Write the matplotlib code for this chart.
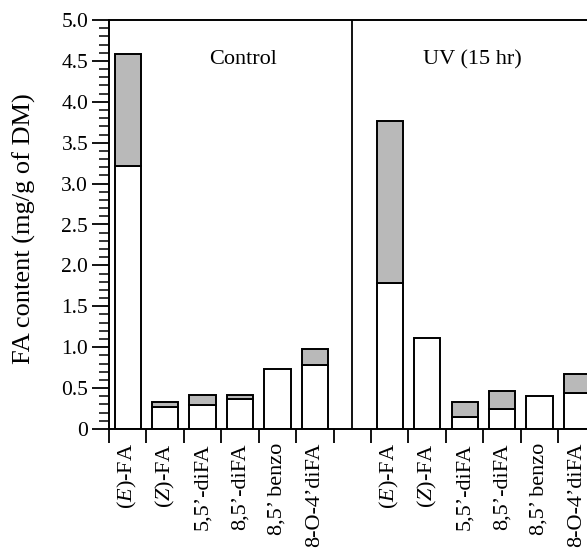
import matplotlib
matplotlib.use("Agg")
import matplotlib.pyplot as plt
from matplotlib.ticker import MultipleLocator, FixedLocator, NullFormatter
import numpy as np

plt.rcParams['font.family'] = ['Liberation Serif', 'DejaVu Serif']
plt.rcParams['mathtext.fontset'] = 'custom'
plt.rcParams['mathtext.it'] = 'Liberation Serif:italic'
plt.rcParams['mathtext.rm'] = 'Liberation Serif'

categories = [r"($\mathit{E}$)-FA", r"($\mathit{Z}$)-FA", "5,5’-diFA", "8,5’-diFA",
              "8,5’ benzo", "8-O-4’diFA"]
groups = ["Control", "UV (15 hr)"]
control_white = [3.22, 0.27, 0.29, 0.37, 0.73, 0.78]
control_gray = [1.36, 0.06, 0.13, 0.05, 0.0, 0.20]
uv_white = [1.78, 1.11, 0.15, 0.24, 0.40, 0.44]
uv_gray = [1.98, 0.0, 0.18, 0.22, 0.0, 0.23]
y_ticks = [0, 0.5, 1.0, 1.5, 2.0, 2.5, 3.0, 3.5, 4.0, 4.5, 5.0]
y_tick_labels = ["0", "0.5", "1.0", "1.5", "2.0", "2.5", "3.0", "3.5", "4.0", "4.5", "5.0"]

fig = plt.figure(figsize=(5.87, 5.52), dpi=100)
ax = fig.add_axes([109/587, 1-429/552, 1-109/587+0.002, (429-20)/552])

n = len(categories)
ctrl_x = np.arange(n)
uv_x = np.arange(n) + n + 1
width = 0.7
gray_col = '#b9b9b9'
lw = 1.4

for xs, wv, gv in [(ctrl_x, control_white, control_gray), (uv_x, uv_white, uv_gray)]:
    ax.bar(xs, wv, width=width, color='white', edgecolor='black', linewidth=lw, zorder=2)
    for x, w, g in zip(xs, wv, gv):
        if g > 0:
            ax.bar([x], [g], bottom=[w], width=width, color=gray_col, edgecolor='black',
                   linewidth=lw, zorder=2)

ax.set_xlim(-0.5, 12.3)
ax.set_ylim(0, 5.0)

# divider
ax.axvline(n + 0.0, color='black', linewidth=1.3, zorder=3)

ax.text(3.07, 4.52, groups[0], fontsize=16, ha='center', va='center')
ax.text(9.2, 4.51, groups[1], fontsize=16, ha='center', va='center')

# y ticks
ax.set_yticks(y_ticks)
ax.set_yticklabels(y_tick_labels, fontsize=15.5)
ax.yaxis.set_minor_locator(MultipleLocator(0.1))
ax.tick_params(axis='y', which='major', direction='out', length=12, width=1.3, pad=3)
ax.tick_params(axis='y', which='minor', direction='out', length=7, width=1.1)

# x ticks: boundaries as major (no labels), centers as minor with labels
bounds = [b - 0.5 for b in range(0, 2 * n + 2)]
ax.xaxis.set_major_locator(FixedLocator(bounds))
ax.xaxis.set_major_formatter(NullFormatter())
centers = list(ctrl_x) + list(uv_x)
ax.xaxis.set_minor_locator(FixedLocator(centers))
ax.set_xticklabels(categories + categories, minor=True, rotation=90, fontsize=16)
ax.tick_params(axis='x', which='major', direction='out', length=10, width=1.3)
ax.tick_params(axis='x', which='minor', length=0, pad=10)

ax.set_ylabel("FA content (mg/g of DM)", fontsize=19)
ax.yaxis.set_label_coords(-0.152, 0.49)

for s in ['left', 'bottom', 'top']:
    ax.spines[s].set_linewidth(1.4)
ax.spines['right'].set_visible(False)

fig.savefig("out.png", dpi=100)
